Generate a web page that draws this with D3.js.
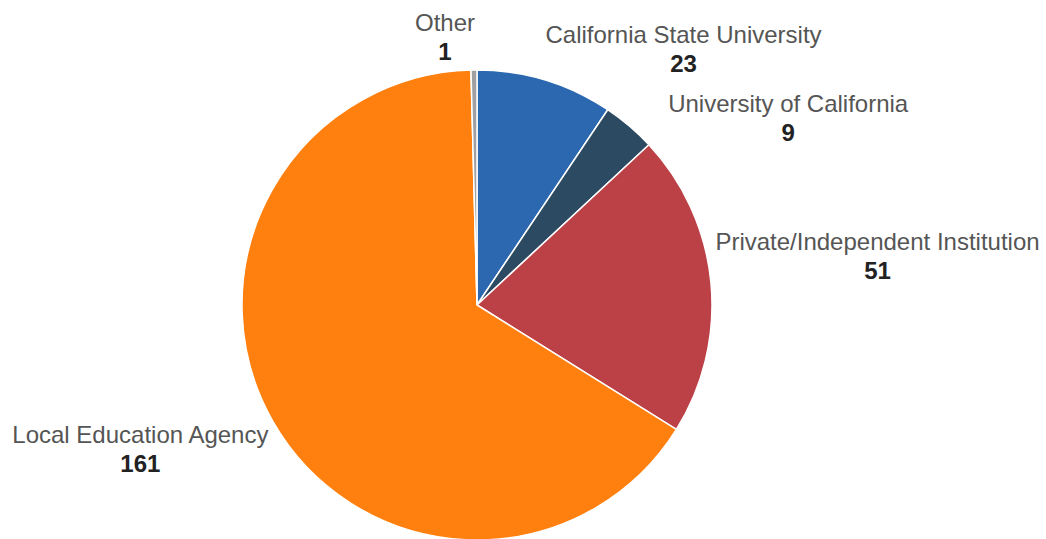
<!DOCTYPE html>
<html>
<head>
<meta charset="utf-8">
<script src="https://cdn.jsdelivr.net/npm/d3@7"></script>
<style>
  body { margin: 0; background: #fff; }
  svg { display: block; font-family: "Liberation Sans", Arial, sans-serif; }
</style>
</head>
<body>
<svg id="canvas" width="1046" height="539"></svg>
<script>
// slice order runs clockwise from 12 o'clock
const categories = ['California State University', 'University of California', 'Private/Independent Institution', 'Local Education Agency', 'Other']
const counts = [23, 9, 51, 161, 1]
const colors = ['#2b68b0', '#2d4a63', '#bc4147', '#ff800e', '#a0a0a0']

let canvas = d3.select('#canvas')

let cx = 477, cy = 305, radius = 235

// where each label block sits relative to its slice's outer anchor point
let labelNudge = [[128, -3], [136, 13], [131.5, -29], [-102, 4], [-28.5, -4]]

let pie = d3.pie().sort(null).value((d) => d.value)
let arc = d3.arc().innerRadius(0).outerRadius(radius)

let slices = pie(categories.map((name, i) => ({ name: name, value: counts[i], color: colors[i] })))

let g = canvas.append('g').attr('transform', 'translate(' + cx + ',' + cy + ')')

g.selectAll('path')
    .data(slices)
    .enter()
    .append('path')
    .attr('d', arc)
    .attr('fill', (d) => d.data.color)
    .attr('stroke', '#fff')
    .attr('stroke-width', 1.5)

let labels = g.selectAll('g.label')
    .data(slices)
    .enter()
    .append('g')
    .attr('class', 'label')
    .attr('transform', (d, i) => {
        let mid = (d.startAngle + d.endAngle) / 2
        let r = radius * 1.15
        let x = Math.sin(mid) * r + labelNudge[i][0]
        let y = -Math.cos(mid) * r + labelNudge[i][1]
        return 'translate(' + x + ',' + y + ')'
    })

labels.append('text')
    .attr('text-anchor', 'middle')
    .attr('font-size', 24)
    .attr('fill', '#555')
    .text((d) => d.data.name)

labels.append('text')
    .attr('text-anchor', 'middle')
    .attr('y', 29)
    .attr('font-size', 24)
    .attr('font-weight', 'bold')
    .attr('fill', '#222')
    .text((d) => d.data.value)
</script>
</body>
</html>
